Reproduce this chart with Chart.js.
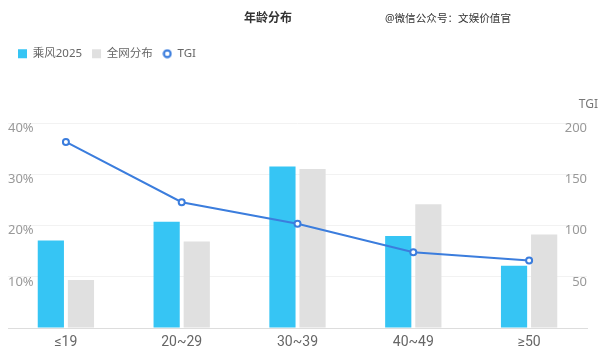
<!DOCTYPE html>
<html>
<head>
<meta charset="utf-8">
<script src="https://cdn.jsdelivr.net/npm/chart.js@4/dist/chart.umd.min.js"></script>
<style>
  html, body { margin: 0; padding: 0; background: #fff; }
  #wrap { width: 600px; height: 353px; }
</style>
</head>
<body>
<div id="wrap"><canvas id="ageChart" width="600" height="353"></canvas></div>
<script>
// values
const ageGroups = ["≤19", "20~29", "30~39", "40~49", "≥50"];
const chengfeng = [17.1, 20.8, 31.6, 18.0, 12.2];
const wholeNet = [9.4, 16.9, 31.1, 24.2, 18.3];
const tgi = [182, 123, 102, 74, 66];
const pctTicks = [10, 20, 30, 40];
const tgiTicks = [50, 100, 150, 200];

const FONT = '"Noto Sans", "Noto Sans CJK SC", sans-serif';
const LINE_BLUE = "#3b7ddd";

// small ring for the TGI legend entry
const ring = document.createElement("canvas");
ring.width = 10;
ring.height = 10;
(() => {
  const r = ring.getContext("2d");
  r.strokeStyle = LINE_BLUE;
  r.lineWidth = 2.2;
  r.beginPath();
  r.arc(5, 5, 3.4, 0, Math.PI * 2);
  r.stroke();
})();

// title, watermark, TGI axis name; also leaves room under the legend
const headerText = {
  id: "headerText",
  beforeLayout(chart) {
    const lg = chart.legend;
    if (lg && !lg._extra) {
      const fit = lg.fit;
      lg.fit = function () {
        fit.call(this);
        this.height += 54;
      };
      lg._extra = true;
    }
  },
  afterDraw(chart) {
    const c = chart.ctx;
    c.save();
    c.textBaseline = "middle";
    c.fillStyle = "#333";
    c.font = "bold 12px " + FONT;
    c.textAlign = "center";
    c.fillText("年龄分布", 268, 19);
    c.font = "10.6px " + FONT;
    c.textAlign = "left";
    c.fillText("@微信公众号：文娱价值官", 385, 19);
    c.fillStyle = "#777";
    c.font = "12px " + FONT;
    c.textAlign = "right";
    c.fillText("TGI", 598, 105);
    c.restore();
  }
};

const ctx = document.getElementById("ageChart").getContext("2d");

new Chart(ctx, {
  data: {
    labels: ageGroups,
    datasets: [
      {
        type: "line",
        label: "TGI",
        data: tgi,
        yAxisID: "yTgi",
        borderColor: LINE_BLUE,
        borderWidth: 2,
        pointBackgroundColor: "#fff",
        pointBorderColor: LINE_BLUE,
        pointBorderWidth: 2,
        pointRadius: 3,
        tension: 0,
        order: 0
      },
      {
        type: "bar",
        label: "乘风2025",
        data: chengfeng,
        yAxisID: "yPct",
        backgroundColor: "#36c5f4",
        categoryPercentage: 0.52,
        barPercentage: 0.87,
        order: 1
      },
      {
        type: "bar",
        label: "全网分布",
        data: wholeNet,
        yAxisID: "yPct",
        backgroundColor: "#e0e0e0",
        categoryPercentage: 0.52,
        barPercentage: 0.87,
        order: 1
      }
    ]
  },
  options: {
    responsive: false,
    animation: false,
    layout: { padding: { top: 38, left: 8, right: 13, bottom: 0 } },
    plugins: {
      tooltip: { enabled: false },
      legend: {
        position: "top",
        align: "start",
        labels: {
          usePointStyle: true,
          boxWidth: 9,
          boxHeight: 9,
          padding: 10,
          color: "#666",
          font: { family: FONT, size: 11.5 },
          sort: (a, b) => a.datasetIndex === 0 ? 1 : b.datasetIndex === 0 ? -1 : a.datasetIndex - b.datasetIndex,
          generateLabels(chart) {
            return Chart.defaults.plugins.legend.labels.generateLabels(chart).map(l => {
              if (l.datasetIndex === 0) {
                return { ...l, pointStyle: ring, lineWidth: 0 };
              }
              return { ...l, pointStyle: "rect", lineWidth: 0 };
            });
          }
        }
      }
    },
    scales: {
      x: {
        grid: { display: false, drawTicks: false },
        border: { color: "#dddddd" },
        ticks: { color: "#666", padding: 6, font: { family: 'Roboto, "Noto Sans", sans-serif', size: 14 } },
        afterFit(s) { s.height = 25; }
      },
      yPct: {
        position: "left",
        min: 0,
        max: 40,
        afterBuildTicks(s) { s.ticks = [0].concat(pctTicks).map(v => ({ value: v })); },
        grid: { color: "#f2f2f2", drawTicks: false },
        border: { display: false },
        ticks: {
          mirror: true,
          padding: 0,
          labelOffset: 5,
          color: "#999",
          font: { family: FONT, size: 13 },
          callback: v => v === 0 ? "" : v + "%"
        },
        afterFit(s) { s.width = 0; }
      },
      yTgi: {
        position: "right",
        min: 0,
        max: 200,
        afterBuildTicks(s) { s.ticks = [0].concat(tgiTicks).map(v => ({ value: v })); },
        grid: { display: false, drawTicks: false },
        border: { display: false },
        ticks: {
          mirror: true,
          padding: 0,
          labelOffset: 5,
          color: "#999",
          font: { family: FONT, size: 13 },
          callback: v => v === 0 ? "" : String(v)
        },
        afterFit(s) { s.width = 0; }
      }
    }
  },
  plugins: [headerText]
});
</script>
</body>
</html>
